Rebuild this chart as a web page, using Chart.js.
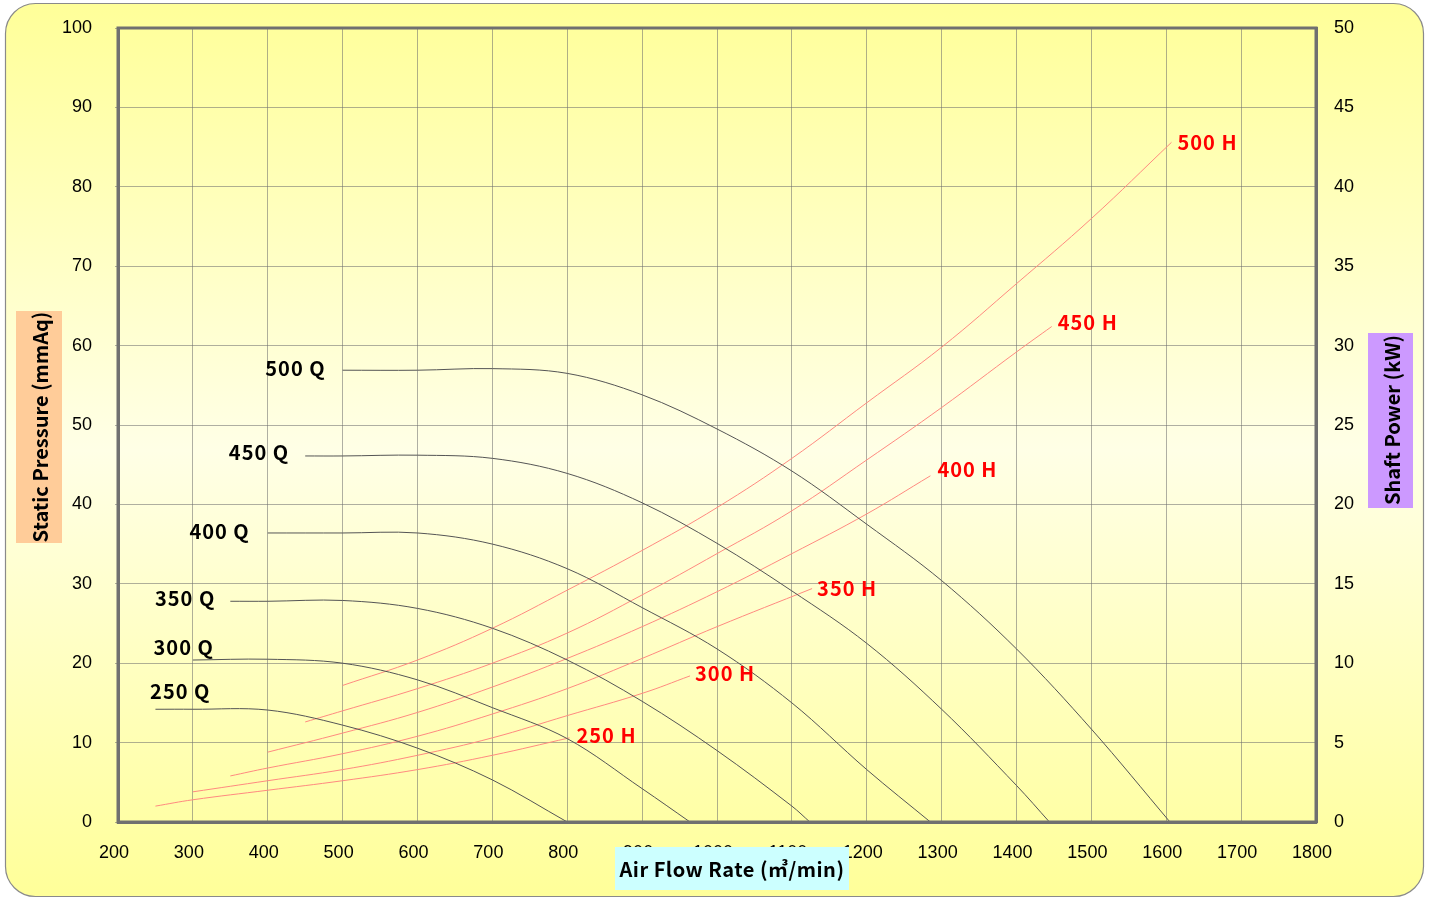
<!DOCTYPE html>
<html><head><meta charset="utf-8">
<script src="https://cdn.jsdelivr.net/npm/chart.js@4.4.1/dist/chart.umd.min.js"></script>
<style>html,body{margin:0;padding:0;background:#fff;overflow:hidden}#wrap{width:1431px;height:898px}</style>
</head><body><div id="wrap"><canvas id="c" width="1431" height="898"></canvas></div>
<script>
// ---- data (x = air flow m3/min) ----
const xTickMin = 200, xTickMax = 1800, xStep = 100;
const pTickMin = 0, pTickMax = 100, pStep = 10;
const kTickMin = 0, kTickMax = 50, kStep = 5;

// Static pressure curves (mmAq)
const q500x = [500, 600, 700, 800, 900, 1000, 1100, 1200, 1300, 1400, 1500, 1605];
const q500y = [56.9, 56.9, 57.1, 56.5, 53.8, 49.5, 44.2, 37.5, 30.4, 21.8, 11.7, 0];
const q450x = [450, 500, 600, 700, 800, 900, 1000, 1100, 1200, 1300, 1400, 1444];
const q450y = [46.1, 46.1, 46.2, 45.8, 43.9, 40.2, 35.1, 29.1, 22.5, 14.2, 4.6, 0];
const q400x = [400, 500, 600, 700, 800, 900, 1000, 1100, 1200, 1285];
const q400y = [36.4, 36.4, 36.4, 35.0, 31.9, 27.0, 21.8, 15.0, 6.6, 0];
const q350x = [350, 400, 500, 600, 700, 800, 900, 1000, 1100, 1124];
const q350y = [27.8, 27.8, 27.9, 26.9, 24.4, 20.4, 15.2, 9.0, 2.0, 0];
const q300x = [300, 400, 500, 600, 700, 800, 900, 964];
const q300y = [20.4, 20.5, 20.0, 17.9, 14.4, 10.5, 4.2, 0];
const q250x = [250, 300, 400, 500, 600, 700, 800];
const q250y = [14.2, 14.2, 14.1, 12.2, 9.3, 5.3, 0];

// Shaft power curves (kW)
const h500x = [500, 600, 700, 800, 900, 1000, 1100, 1200, 1300, 1400, 1500, 1607];
const h500y = [8.6, 10.2, 12.2, 14.6, 17.1, 19.8, 22.9, 26.4, 29.9, 33.9, 38.0, 42.8];
const h450x = [450, 500, 600, 700, 800, 900, 1000, 1100, 1200, 1300, 1400, 1447];
const h450y = [6.3, 7.0, 8.4, 10.0, 11.9, 14.3, 16.9, 19.6, 22.8, 26.1, 29.6, 31.2];
const h400x = [400, 500, 600, 700, 800, 900, 1000, 1100, 1200, 1285];
const h400y = [4.4, 5.6, 6.9, 8.5, 10.3, 12.3, 14.5, 16.9, 19.4, 21.8];
const h350x = [350, 400, 500, 600, 700, 800, 900, 1000, 1127];
const h350y = [2.9, 3.4, 4.3, 5.4, 6.8, 8.4, 10.3, 12.3, 14.7];
const h300x = [300, 400, 500, 600, 700, 800, 900, 964];
const h300y = [1.9, 2.6, 3.3, 4.2, 5.3, 6.7, 8.1, 9.2];
const h250x = [250, 300, 400, 500, 600, 700, 803];
const h250y = [1.0, 1.4, 2.0, 2.6, 3.3, 4.2, 5.3];

const qNames = ['500 Q', '450 Q', '400 Q', '350 Q', '300 Q', '250 Q'];
const hNames = ['500 H', '450 H', '400 H', '350 H', '300 H', '250 H'];

const xTitle = 'Air Flow Rate (\u33A5/min)';
const yTitle = 'Static Pressure (mmAq)';
const y2Title = 'Shaft Power (kW)';

// ---- styles ----
const Q_COLOR = '#555555';
const H_COLOR = '#ff8a80';
const LABEL_FONT = 'bold 20px "Noto Sans CJK KR", "Noto Sans", sans-serif';
const TICK_FONT = {family: 'Liberation Sans, Arial, sans-serif', size: 18};
// label placement relative to curve start (Q) / end (H), pixels
const qLabelPos = [
  {dx: -17, dy: -2, align: 'right'},
  {dx: -16, dy: -4, align: 'right'},
  {dx: -18, dy: -2, align: 'right'},
  {dx: -15, dy: -3, align: 'right'},
  {dx: 21, dy: -13, align: 'right'},
  {dx: 55, dy: -18, align: 'right'}
];
const hLabelPos = [
  {dx: 6, dy: 0}, {dx: 6, dy: -4}, {dx: 7, dy: -6}, {dx: 5, dy: 0}, {dx: 5, dy: -2}, {dx: 7, dy: -2}
];

function pts(xs, ys) { return xs.map((x, i) => ({x: x, y: ys[i]})); }

const qSets = [[q500x, q500y], [q450x, q450y], [q400x, q400y], [q350x, q350y], [q300x, q300y], [q250x, q250y]];
const hSets = [[h500x, h500y], [h450x, h450y], [h400x, h400y], [h350x, h350y], [h300x, h300y], [h250x, h250y]];

const datasets = [];
qSets.forEach((s, i) => datasets.push({
  label: qNames[i], data: pts(s[0], s[1]), yAxisID: 'y', borderColor: Q_COLOR, borderWidth: 1,
  pointRadius: 0, tension: 0.35, fill: false,
  _lbl: {text: qNames[i], at: 'start', color: '#000', ...qLabelPos[i]}
}));
hSets.forEach((s, i) => datasets.push({
  label: hNames[i], data: pts(s[0], s[1]), yAxisID: 'y2', borderColor: H_COLOR, borderWidth: 1,
  pointRadius: 0, tension: 0.4, fill: false,
  _lbl: {text: hNames[i], at: 'end', color: '#ff0000', align: 'left', ...hLabelPos[i]}
}));

const bgPlugin = {
  id: 'bg',
  beforeDraw(chart) {
    const ctx = chart.ctx;
    ctx.save();
    ctx.fillStyle = '#ffffff';
    ctx.fillRect(0, 0, chart.width, chart.height);
    const x0 = 5.5, y0 = 3.5, w = 1418, h = 893, r = 30;
    const g = ctx.createLinearGradient(0, y0, 0, y0 + h);
    g.addColorStop(0, '#ffff99');
    g.addColorStop(0.5, '#ffffe6');
    g.addColorStop(1, '#ffff99');
    ctx.beginPath();
    ctx.roundRect(x0, y0, w, h, r);
    ctx.fillStyle = g;
    ctx.fill();
    ctx.lineWidth = 1.2;
    ctx.strokeStyle = '#8a8a8a';
    ctx.stroke();
    ctx.restore();
  },
  afterDatasetsDraw(chart) {
    const ctx = chart.ctx;
    const xs = chart.scales.x;
    ctx.save();
    ctx.font = LABEL_FONT;
    ctx.letterSpacing = '1px';
    ctx.textBaseline = 'middle';
    chart.data.datasets.forEach(ds => {
      const L = ds._lbl; if (!L) return;
      const ys = chart.scales[ds.yAxisID];
      const p = L.at === 'start' ? ds.data[0] : ds.data[ds.data.length - 1];
      const px = xs.getPixelForValue(p.x), py = ys.getPixelForValue(p.y);
      ctx.fillStyle = L.color;
      ctx.textAlign = L.align;
      ctx.fillText(L.text, px + L.dx, py + L.dy);
    });
    ctx.restore();
  },
  afterDraw(chart) {
    const ctx = chart.ctx, a = chart.chartArea;
    ctx.save();
    ctx.strokeStyle = '#707070';
    ctx.lineWidth = 3;
    ctx.strokeRect(a.left, a.top, a.right - a.left, a.bottom - a.top);
    ctx.font = 'bold 20px "Noto Sans CJK KR", "Noto Sans", sans-serif';
    ctx.textAlign = 'center';
    ctx.textBaseline = 'middle';
    // left title
    ctx.fillStyle = '#ffcc99';
    ctx.fillRect(16, 311, 46, 232);
    ctx.save(); ctx.translate(39, 427); ctx.rotate(-Math.PI / 2);
    ctx.fillStyle = '#000'; ctx.fillText(yTitle, 0, 1); ctx.restore();
    // right title
    ctx.fillStyle = '#cc99ff';
    ctx.fillRect(1368, 333, 45, 175);
    ctx.save(); ctx.translate(1391, 420); ctx.rotate(-Math.PI / 2);
    ctx.fillStyle = '#000'; ctx.fillText(y2Title, 0, 1); ctx.restore();
    // bottom title
    ctx.fillStyle = '#ccffff';
    ctx.fillRect(615, 847, 234, 43);
    ctx.letterSpacing = '0.5px';
    ctx.fillStyle = '#000'; ctx.fillText(xTitle, 732, 869);
    ctx.restore();
  }
};

const GRID = 'rgba(110,110,110,0.55)';
const plain = v => String(v);
function fixV(w) { return s => { s.width = w; s.paddingTop = 0; s.paddingBottom = 0; }; }
new Chart(document.getElementById('c'), {
  type: 'line',
  data: {datasets: datasets},
  options: {
    responsive: false, animation: false, devicePixelRatio: 1,
    layout: {padding: {top: 28, left: 0, right: 0, bottom: 0}},
    plugins: {legend: {display: false}, tooltip: {enabled: false}},
    scales: {
      x: {
        type: 'linear', min: xTickMin, max: xTickMax,
        ticks: {stepSize: xStep, color: '#000', font: TICK_FONT, padding: 20, labelOffset: -4, maxRotation: 0, autoSkip: false, callback: plain},
        grid: {color: GRID, lineWidth: 1, drawTicks: false},
        border: {color: '#707070', width: 3},
        afterFit(s) { s.height = 76; s.paddingLeft = 0; s.paddingRight = 0; }
      },
      y: {
        position: 'left', min: pTickMin, max: pTickMax,
        ticks: {stepSize: pStep, color: '#000', font: TICK_FONT, padding: 23, callback: plain},
        grid: {color: GRID, lineWidth: 1, tickLength: 3},
        border: {color: '#707070', width: 3},
        afterFit: fixV(118)
      },
      y2: {
        position: 'right', min: kTickMin, max: kTickMax,
        ticks: {stepSize: kStep, color: '#000', font: TICK_FONT, padding: 18, callback: plain},
        grid: {display: false, drawTicks: false},
        border: {color: '#707070', width: 3},
        afterFit: fixV(115)
      }
    }
  },
  plugins: [bgPlugin]
});
</script></body></html>
